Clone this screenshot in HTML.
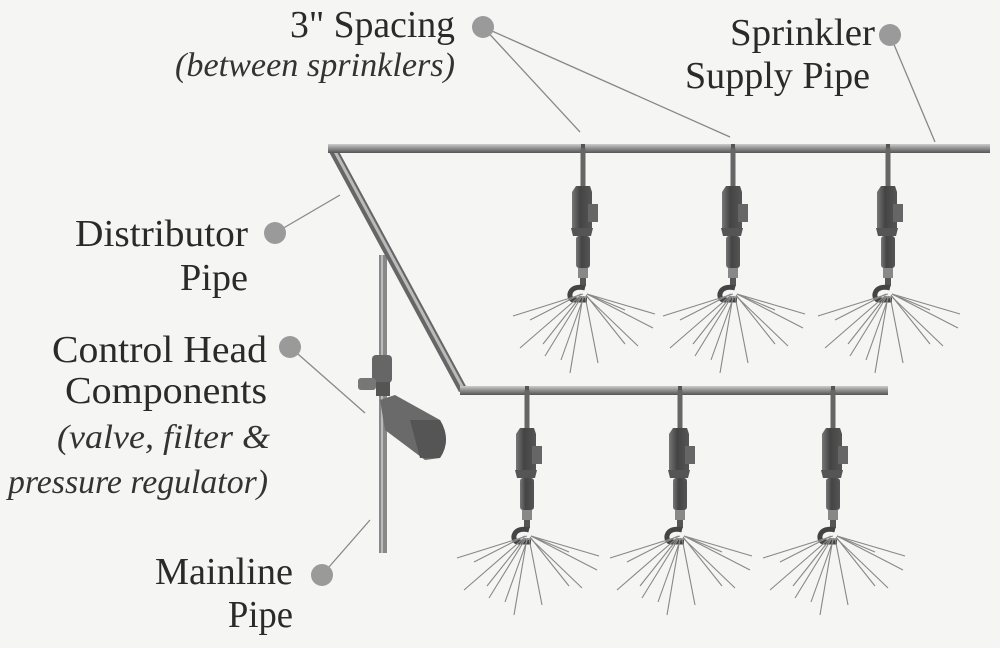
<!DOCTYPE html>
<html><head><style>
html,body{margin:0;padding:0;background:#f5f5f4;}
svg{display:block}
.t{font-family:"Liberation Serif",serif;font-size:38px;fill:#2a2a2a;}
.i{font-family:"Liberation Serif",serif;font-style:italic;font-size:34px;fill:#333;}
</style></head><body>
<svg width="1000" height="648" viewBox="0 0 1000 648" xmlns="http://www.w3.org/2000/svg">
<defs>
<linearGradient id="pipeH" x1="0" y1="0" x2="0" y2="1">
<stop offset="0" stop-color="#ccc"/><stop offset="0.4" stop-color="#999"/><stop offset="1" stop-color="#555"/></linearGradient>
<linearGradient id="body" x1="0" y1="0" x2="1" y2="0">
<stop offset="0" stop-color="#777"/><stop offset="0.4" stop-color="#444"/><stop offset="1" stop-color="#555"/></linearGradient>
<g id="spr">
<rect x="-2" y="-4" width="4" height="4" fill="#555"/>
<rect x="-2.5" y="0" width="5" height="38" fill="#666"/>
<path d="M-7,38 L7,38 L9,44 L9,80 L-11,80 L-11,44 Z" fill="url(#body)"/>
<rect x="5" y="56" width="10" height="18" fill="#666"/>
<path d="M-12,80 L10,80 L8,88 L-10,88 Z" fill="#555"/>
<rect x="-7" y="88" width="14" height="32" rx="3" fill="url(#body)"/>
<rect x="-5" y="120" width="10" height="10" fill="#888"/>
<rect x="-3" y="130" width="6" height="8" fill="#555"/>
<path d="M2,140 C-14,136 -16,150 -10,152 L4,152" fill="none" stroke="#444" stroke-width="5"/>
<g stroke="#888" stroke-width="1.1" fill="none">
<line x1="0" y1="146" x2="-70" y2="168"/>
<line x1="-2" y1="146" x2="-53" y2="172"/>
<line x1="-3" y1="148" x2="-63" y2="200"/>
<line x1="-2" y1="148" x2="-40" y2="196"/>
<line x1="-1" y1="148" x2="-38" y2="208"/>
<line x1="0" y1="148" x2="-13" y2="225"/>
<line x1="1" y1="148" x2="-22" y2="212"/>
<line x1="2" y1="148" x2="15" y2="215"/>
<line x1="3" y1="148" x2="55" y2="198"/>
<line x1="3" y1="147" x2="42" y2="196"/>
<line x1="4" y1="146" x2="70" y2="180"/>
<line x1="4" y1="146" x2="72" y2="166"/>
<line x1="4" y1="146" x2="42" y2="162"/>
</g>
</g>
</defs>

<g stroke="#888" stroke-width="1.3">
<line x1="483" y1="27" x2="580" y2="132"/>
<line x1="483" y1="27" x2="730" y2="137"/>
<line x1="890" y1="35" x2="935" y2="142"/>
<line x1="275" y1="233" x2="340" y2="195"/>
<line x1="290" y1="347" x2="365" y2="413"/>
<line x1="322" y1="575" x2="370" y2="520"/>
</g>
<g fill="#9a9a9a">
<circle cx="483" cy="27" r="11"/>
<circle cx="890" cy="35" r="11"/>
<circle cx="275" cy="233" r="11"/>
<circle cx="290" cy="347" r="11"/>
<circle cx="322" cy="575" r="11"/>
</g>

<rect x="379" y="255" width="8" height="298" fill="#888"/>
<rect x="381" y="255" width="2" height="298" fill="#bbb"/>
<line x1="332" y1="148" x2="463" y2="390" stroke="#666" stroke-width="9"/>
<line x1="332" y1="146" x2="463" y2="388" stroke="#bbb" stroke-width="3"/>
<rect x="328" y="144" width="662" height="9" fill="url(#pipeH)"/>
<rect x="460" y="386" width="428" height="9" fill="url(#pipeH)"/>

<g>
<rect x="372" y="355" width="20" height="28" rx="4" fill="#666"/>
<rect x="358" y="378" width="18" height="12" rx="3" fill="#777"/>
<rect x="376" y="382" width="14" height="14" fill="#555"/>
<path d="M380,400 L395,395 L440,420 Q452,440 440,458 L425,460 L385,430 Z" fill="#6a6a6a"/>
<path d="M410,420 L440,420 Q452,440 440,458 L420,458 Z" fill="#555"/>
</g>

<use href="#spr" x="583" y="148"/>
<use href="#spr" x="733" y="148"/>
<use href="#spr" x="888" y="148"/>
<use href="#spr" x="527" y="390"/>
<use href="#spr" x="680" y="390"/>
<use href="#spr" x="833" y="390"/>

<text class="t" x="290" y="37" textLength="165" lengthAdjust="spacingAndGlyphs">3" Spacing</text>
<text class="i" x="175" y="76" textLength="280" lengthAdjust="spacingAndGlyphs">(between sprinklers)</text>
<text class="t" x="730" y="45" textLength="145" lengthAdjust="spacingAndGlyphs">Sprinkler</text>
<text class="t" x="685" y="88" textLength="185" lengthAdjust="spacingAndGlyphs">Supply Pipe</text>
<text class="t" x="75" y="246" textLength="173" lengthAdjust="spacingAndGlyphs">Distributor</text>
<text class="t" x="180" y="290" textLength="68" lengthAdjust="spacingAndGlyphs">Pipe</text>
<text class="t" x="52" y="362" textLength="215" lengthAdjust="spacingAndGlyphs">Control Head</text>
<text class="t" x="65" y="403" textLength="202" lengthAdjust="spacingAndGlyphs">Components</text>
<text class="i" x="57" y="448" textLength="213" lengthAdjust="spacingAndGlyphs">(valve, filter &amp;</text>
<text class="i" x="8" y="493" textLength="260" lengthAdjust="spacingAndGlyphs">pressure regulator)</text>
<text class="t" x="155" y="584" textLength="138" lengthAdjust="spacingAndGlyphs">Mainline</text>
<text class="t" x="228" y="627" textLength="65" lengthAdjust="spacingAndGlyphs">Pipe</text>
</svg>
</body></html>
